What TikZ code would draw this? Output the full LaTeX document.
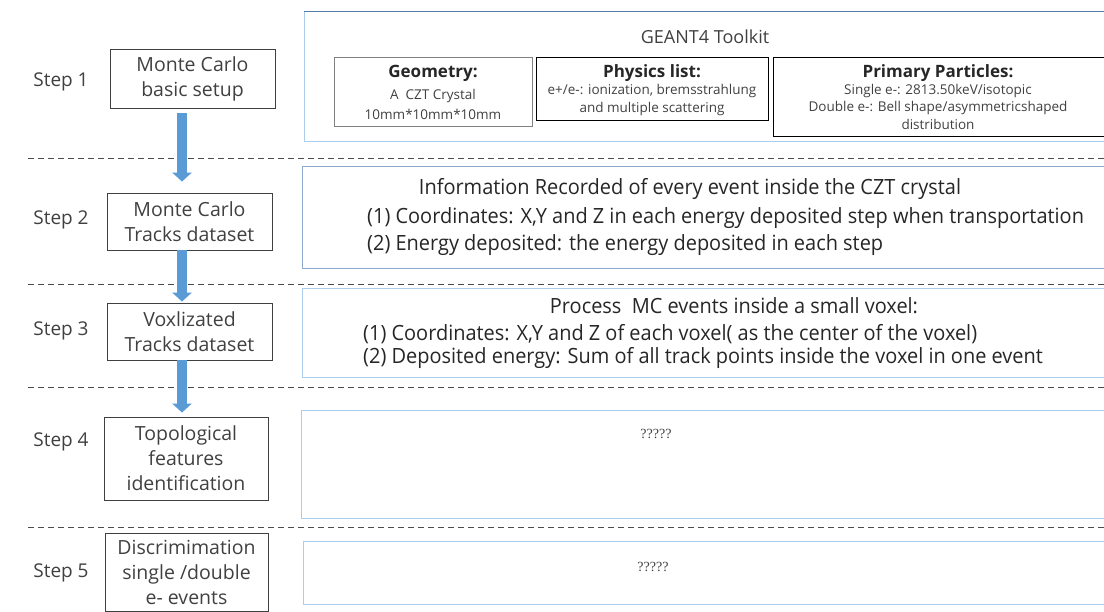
\documentclass[tikz,border=0pt]{standalone}
\usepackage{fontspec}
\setmainfont{Open Sans}
\newfontfamily\narrowfont[FakeStretch=0.95]{Open Sans}
\newfontfamily\qmarkfont{Liberation Serif}
\usetikzlibrary{arrows.meta}
\definecolor{flowblue}{HTML}{5B9BD5}
\definecolor{frameblue}{HTML}{A9CDEB}
\definecolor{framedark}{HTML}{4F7CAC}
\definecolor{stepframe}{HTML}{8EA9CB}
\definecolor{textgray}{HTML}{404040}

\begin{document}
\begin{tikzpicture}[x=1pt,y=-1pt,
  stepbox/.style={draw=black!75,line width=0.8pt,minimum width=165pt,align=center,
    inner sep=2pt,text=textgray,font=\fontsize{19.5}{25}\selectfont},
  steplabel/.style={text=textgray,font=\fontsize{19}{22}\selectfont},
  flow/.style={line width=10pt,flowblue,-{Triangle[width=19pt,length=9pt]}},
  sep/.style={dash pattern=on 6pt off 4pt,black!70,line width=0.8pt},
  panel/.style={frameblue,line width=1pt},
  partbox/.style={line width=0.8pt,anchor=north west,inner sep=0pt},
  parttitle/.style={inner sep=0pt,text=black!85,font=\fontsize{17}{19}\selectfont\bfseries},
  parttext/.style={inner sep=0pt,text=textgray,font=\fontsize{13.5}{15}\selectfont},
  infotitle/.style={inner sep=0pt,text=black!85,font=\fontsize{21}{24}\narrowfont},
  infoline/.style={anchor=west,inner sep=0pt,text=black!85,font=\fontsize{21}{24}\narrowfont},
  qmark/.style={inner sep=0pt,text=textgray,font=\fontsize{14}{16}\qmarkfont}]
\clip (0,0) rectangle (1104,612);

% separators between the steps
\foreach \y in {158,284,387,527}
  \draw[sep] (28,\y) -- (1104,\y);

% left column
\node[steplabel] (l1) at (61,82) {Step 1};
\node[steplabel] (l2) at (61,220) {Step 2};
\node[steplabel] (l3) at (61,331) {Step 3};
\node[steplabel] (l4) at (61,442) {Step 4};
\node[steplabel] (l5) at (61,573) {Step 5};

\node[stepbox,minimum height=59pt] (s1) at (192.5,78.5) {Monte Carlo\\basic setup};
\node[stepbox,minimum height=57pt] (s2) at (189.5,221.5) {Monte Carlo\\Tracks dataset};
\node[stepbox,minimum height=57pt] (s3) at (189.5,331.5) {Voxlizated\\Tracks dataset};
\node[stepbox,minimum width=164pt,minimum height=83pt] (s4) at (186,458.5) {Topological\\features\\identification};
\node[stepbox,minimum width=163pt,minimum height=78pt] (s5) at (186.5,572) {Discrimimation\\single /double\\e- events};

\coordinate (ax) at (182,0);
\draw[flow,shorten <=5pt,shorten >=11pt] (s1.south -| ax) -- (s2.north -| ax);
\draw[flow,shorten >=1pt] (s2.south -| ax) -- (s3.north -| ax);
\draw[flow,shorten >=4pt] (s3.south -| ax) -- (s4.north -| ax);

% step 1: GEANT4 panel
\draw[panel] (304,12) rectangle (1110,142);
\draw[framedark,line width=1pt] (304,12) -- (1110,12);
\node[inner sep=0pt,text=textgray,font=\fontsize{18}{20}\selectfont] (geant) at (705,37) {GEANT4 Toolkit};

\node[partbox,draw=black!50,minimum width=198pt,minimum height=69pt] (geom) at (334,57) {};
\node[partbox,draw=black,minimum width=232pt,minimum height=63pt] (phys) at (536,57) {};
\node[partbox,draw=black,minimum width=340pt,minimum height=79pt] (prim) at (773,57) {};

\node[parttitle] (geomt) at (433,73.5) {Geometry:};
\node[parttext] (geoma) at (433,96) {A\ \ CZT Crystal};
\node[parttext] (geomb) at (433,114.5) {10mm*10mm*10mm};

\node[parttitle] (physt) at (652,73.5) {Physics list:};
\node[parttext] (physa) at (652,91) {e+/e-: ionization, bremsstrahlung};
\node[parttext] (physb) at (652,109) {and multiple scattering};

\node[parttitle] (primt) at (938,73.5) {Primary Particles:};
\node[parttext] (prima) at (938,90.5) {Single e-: 2813.50keV/isotopic};
\node[parttext] (primb) at (938,107.5) {Double e-: Bell shape/asymmetricshaped};
\node[parttext] (primc) at (938,124.5) {distribution};

% step 2: tracks panel
\draw[panel,stepframe] (302,167) rectangle (1110,269);
\node[infotitle] (info2) at (690,189) {Information Recorded of every event inside the CZT crystal};
\node[infoline] (info2a) at (367,218) {(1) Coordinates: X,Y and Z in each energy deposited step when transportation};
\node[infoline] (info2b) at (367,245) {(2) Energy deposited: the energy deposited in each step};

% step 3: voxel panel
\draw[panel] (302,289) rectangle (1110,378);
\node[infotitle] (info3) at (734,306) {Process\ \ MC events inside a small voxel:};
\node[infoline] (info3a) at (363,334) {(1) Coordinates: X,Y and Z of each voxel( as the center of the voxel)};
\node[infoline] (info3b) at (363,358) {(2) Deposited energy: Sum of all track points inside the voxel in one event};

% steps 4 and 5: open panels
\draw[panel] (301,411) rectangle (1110,518);
\node[qmark] (q4) at (656,434) {?????};
\draw[panel] (303,541) rectangle (1110,604);
\node[qmark] (q5) at (653,567) {?????};
\end{tikzpicture}
\end{document}
